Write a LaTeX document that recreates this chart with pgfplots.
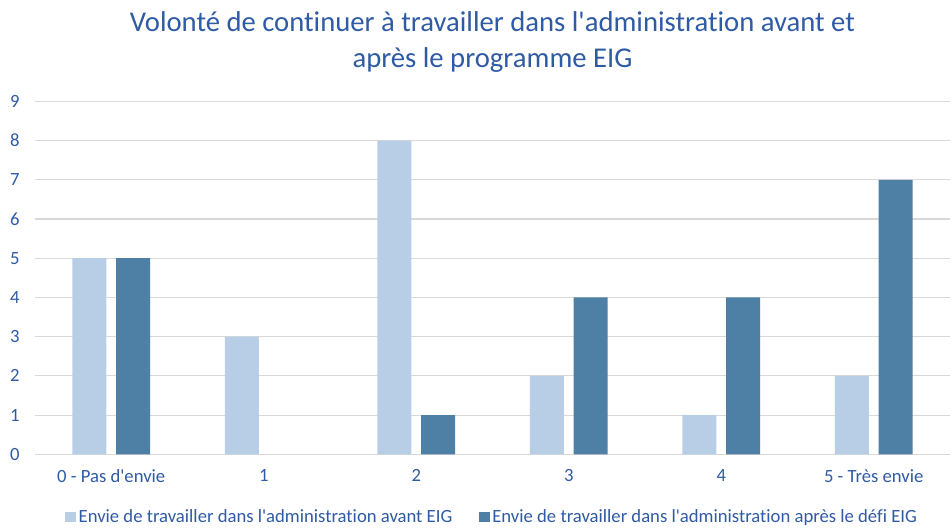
\documentclass[border=0pt]{standalone}
\usepackage{fontspec}
\setmainfont{Carlito}[Ligatures={TeXOff,NoCommon}]
\usepackage{pgfplots}
\pgfplotsset{compat=1.18}
\definecolor{avant}{RGB}{184,206,230}
\definecolor{apres}{RGB}{78,128,166}
\definecolor{txtblue}{RGB}{47,90,164}
\definecolor{gridgray}{RGB}{217,217,217}

\begin{document}
\begin{tikzpicture}
\useasboundingbox (-26.25pt,-55.5pt) rectangle (687.75pt,340.75pt);
\begin{axis}[
    at={(0,0)}, anchor=south west,
    scale only axis,
    width=686.25pt, height=264.75pt,
    xmin=-0.5, xmax=5.5,
    ymin=0, ymax=9,
    ybar,
    bar width=0.223,
    axis y line*=left,
    y axis line style={draw=none},
    axis x line*=bottom,
    x axis line style={gridgray, line width=1pt, -},
    ymajorgrids=true,
    grid style={gridgray, line width=0.8pt},
    major tick length=0pt,
    xtick={0,1,2,3,4,5},
    xticklabels={0 - Pas d'envie,1,2,3,4,5 - Très envie},
    ytick={0,1,...,9},
    yticklabel style={font=\fontsize{14}{16}\selectfont, text=txtblue, anchor=east, xshift=-8pt},
    xticklabel style={font=\fontsize{14}{16}\selectfont, text=txtblue, yshift=-8pt},
    /pgf/number format/assume math mode=true,
    title={Volonté de continuer à travailler dans l'administration avant et\\après le programme EIG},
    title style={font=\fontsize{21.5}{27}\selectfont, text=txtblue, align=center, at={(0.5,1)}, anchor=south, yshift=12pt},
    legend style={at={(0.5,-47pt)}, anchor=center, draw=none, fill=none,
        legend columns=2, font=\fontsize{14}{16}\selectfont, text=txtblue,
        /tikz/every even column/.append style={column sep=18pt}},
    legend image code/.code={\fill[#1] (0pt,-4pt) rectangle (8pt,4pt);},
    clip=false,
]
\addplot[fill=avant, draw=none, bar shift=-0.144] coordinates {
    (0,5) (1,3) (2,8) (3,2) (4,1) (5,2)
};
\addlegendentry{Envie de travailler dans l'administration avant EIG}
\addplot[fill=apres, draw=none, bar shift=0.144, y filter/.expression={y==0 ? nan : y}] coordinates {
    (0,5) (1,0) (2,1) (3,4) (4,4) (5,7)
};
\addlegendentry{Envie de travailler dans l'administration après le défi EIG}
\end{axis}
\end{tikzpicture}
\end{document}
